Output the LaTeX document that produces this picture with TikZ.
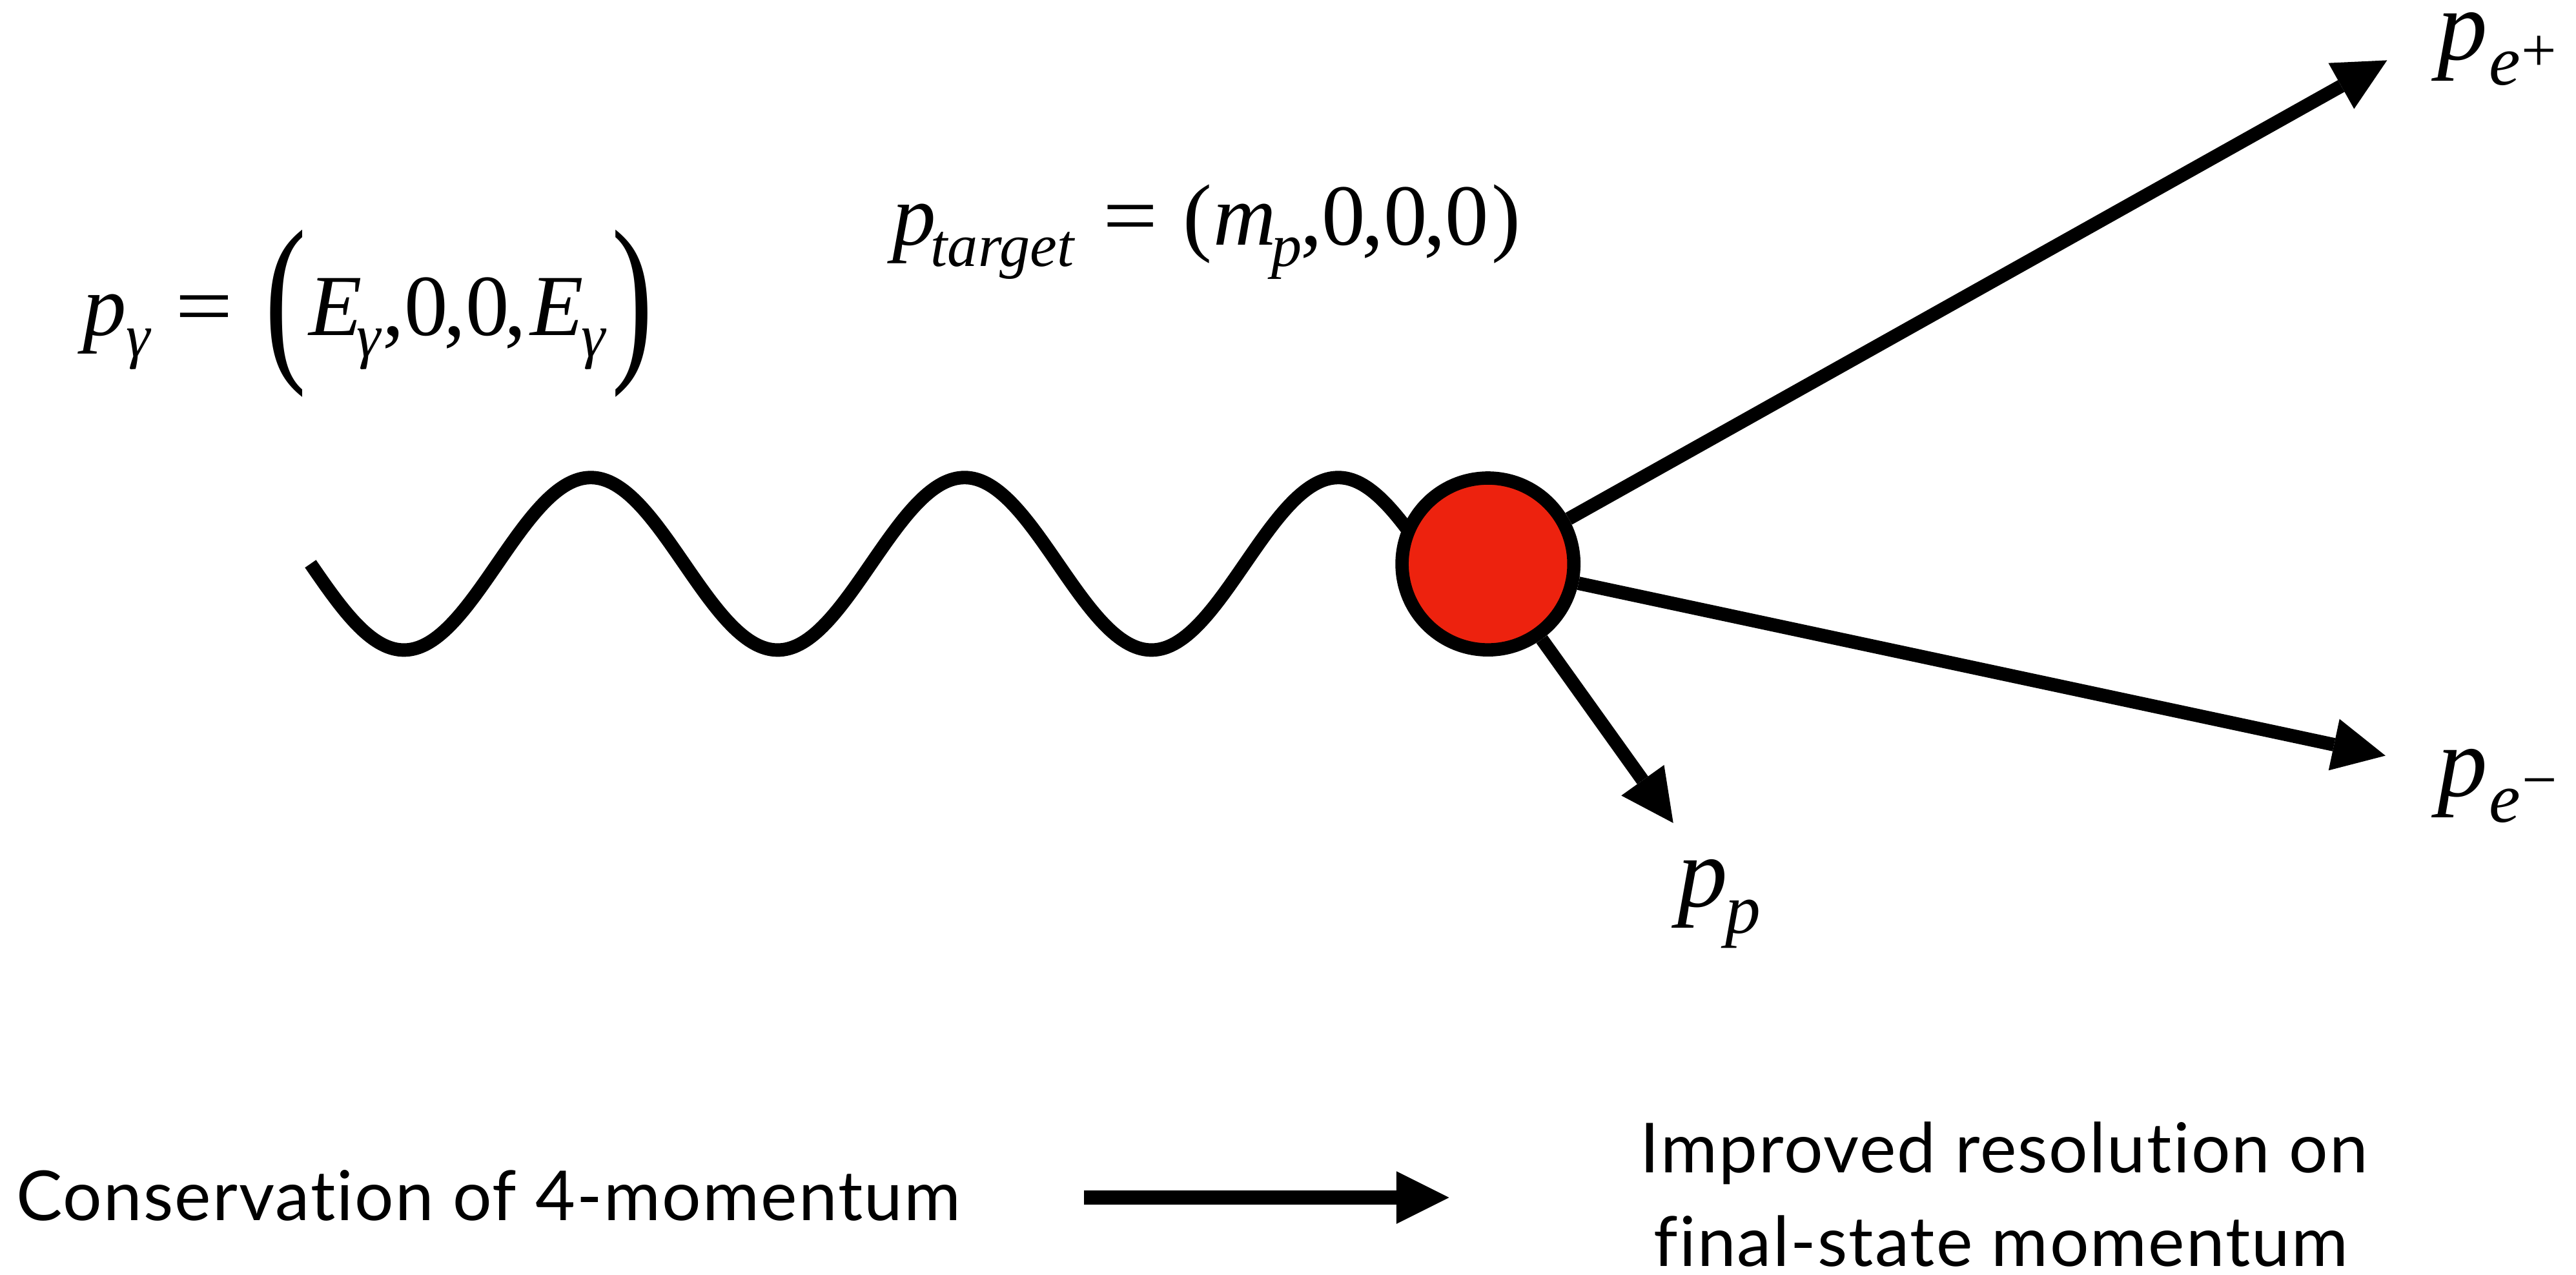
\documentclass[tikz,border=0pt]{standalone}
\usepackage{fontspec}
\setmainfont{Liberation Serif}
\newfontfamily\avenir[Ligatures=NoCommon,LetterSpace=2]{Lato}
\usetikzlibrary{arrows.meta}
\pgfdeclarelayer{bg}
\pgfsetlayers{bg,main}
\definecolor{blobred}{RGB}{237,34,14}
\tikzset{
  lbl/.style={anchor=base west, inner sep=0pt, outer sep=0pt},
  ctr/.style={anchor=center, inner sep=0pt, outer sep=0pt},
  bigit/.style={lbl, font=\fontsize{53}{60}\selectfont\itshape},
  subit/.style={lbl, font=\fontsize{37}{40}\selectfont\itshape},
  bigup/.style={lbl, font=\fontsize{53}{60}\selectfont},
  bigparen/.style={ctr, font=\fontsize{53}{60}\selectfont},
  hugeit/.style={lbl, font=\fontsize{61}{70}\selectfont\itshape},
  hugesub/.style={lbl, font=\fontsize{43}{50}\selectfont\itshape},
  sgn/.style={ctr, font=\fontsize{38}{40}\selectfont},
  prose/.style={inner sep=0pt, outer sep=0pt, font=\avenir\fontsize{42}{50}\selectfont},
  thick line/.style={line width=8.2pt},
  arr/.style={thick line, -{Triangle[length=32pt,width=32pt,line width=0pt]}},
  wave/.style={thick line},
  blob/.style={circle, draw, fill=blobred, line width=8.1pt, minimum size=104.6pt, inner sep=0pt},
}
\begin{document}
\begin{tikzpicture}[x=1pt,y=-1pt]
\useasboundingbox (0,0) rectangle (1568,776);
% vertex
\node[blob] (v) at (905.7,343.3) {};
\coordinate (tipEp) at (1453,36.7);
\coordinate (tipEm) at (1452,460);
\coordinate (tipP) at (1018.5,501);
\begin{pgfonlayer}{bg}
\draw[wave] plot[domain=189:880, samples=400] (\x, {343.2+52.5*sin(1.582418*(\x-189))});
\draw[arr] (v) -- (tipEp);
\draw[arr] (v) -- (tipEm);
\draw[arr] (v) -- (tipP);
\end{pgfonlayer}
% p_gamma formula
\node[bigit] (pg) at (50.6,204.3) {p};
\node[subit] (pgs) at (77,217.3) {γ};
\node[bigup] (pgeq) at (106.7,204.3) {\scalebox{1.18}[1]{=}};
\node[bigparen] (pglp) at (173.75,191) {\scalebox{1.43}[2.12]{(}};
\node[bigit] (pge1) at (188,204.3) {E};
\node[subit] (pge1s) at (217,217.3) {γ};
\node[bigup] (pgz) at (233,204.3) {,0\kern-2.6pt,0\kern-2.6pt,};
\node[bigit] (pge2) at (323,204.3) {E};
\node[subit] (pge2s) at (354,217.3) {γ};
\node[bigparen] (pgrp) at (385,191) {\scalebox{1.43}[2.12]{)}};
% p_target formula
\node[bigit] (pt) at (543.4,149.3) {p};
\node[subit] (pts) at (566.6,162.3) {target};
\node[bigup] (pteq) at (671.4,149.3) {\scalebox{1.12}[1]{=}};
\node[bigup] (ptlp) at (720.3,149.3) {(};
\node[bigit] (ptm) at (738.7,149.3) {m};
\node[subit] (ptms) at (773.8,162.3) {p};
\node[bigup] (ptz) at (791.5,149.3) {,0\kern-2.2pt,0\kern-2.2pt,0\kern1.5pt)};
% final state labels
\node[hugeit] (pep) at (1483.6,36.5) {p};
\node[hugesub] (peps) at (1515,51.5) {e};
\node[sgn] (pepsg) at (1545.5,32.5) {+};
\node[hugeit] (pem) at (1483.6,484.7) {p};
\node[hugesub] (pems) at (1515,500.5) {e};
\node[sgn] (pemsg) at (1546,480.7) {−};
\node[hugeit] (pp) at (1021,552) {p};
\node[hugesub] (pps) at (1050.2,568) {p};
% bottom line
\node[prose, anchor=base west] (cons) at (10,743) {Conservation of 4-momentum};
\node[prose, anchor=base] (res1) at (1220,714) {Improved resolution on};
\node[prose, anchor=base] (res2) at (1218,771) {final-state momentum};
\coordinate (ba) at (660,729);
\coordinate (bb) at (882,729);
\draw[arr, line width=8.5pt] (ba) -- (bb);
\end{tikzpicture}
\end{document}
